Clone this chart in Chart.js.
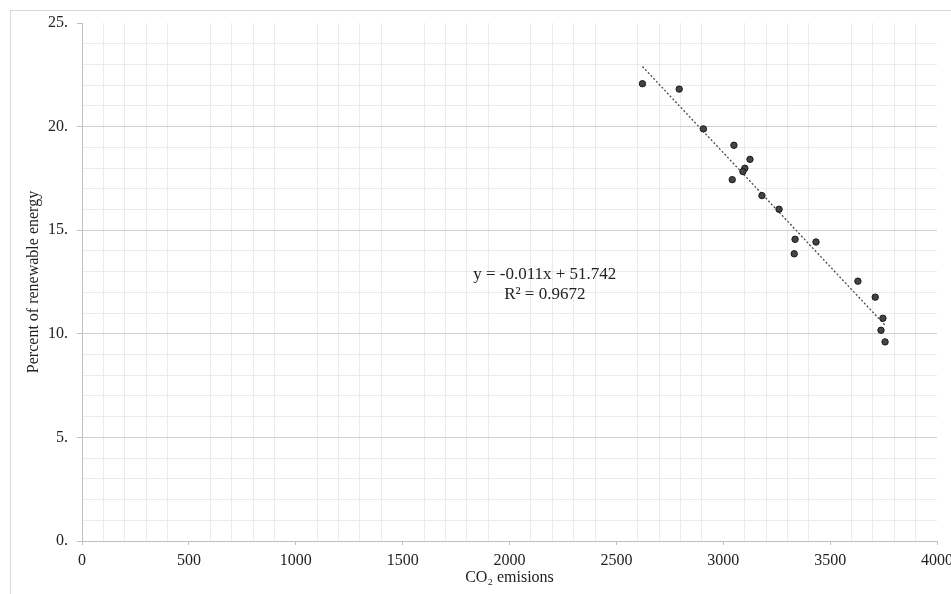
<!DOCTYPE html>
<html>
<head>
<meta charset="utf-8">
<script src="https://cdn.jsdelivr.net/npm/chart.js@4"></script>
<style>
  html, body { margin: 0; padding: 0; background: #fff; overflow: hidden; }
  #frame { position: absolute; left: 10px; top: 10px; width: 1000px; height: 700px;
           border-left: 1px solid #d9d9d9; border-top: 1px solid #d9d9d9; }
  #co2Chart { position: absolute; left: 0; top: 0; }
</style>
</head>
<body>
<div id="frame"></div>
<canvas id="co2Chart" width="965" height="594"></canvas>
<script>
// scatter data
const co2 = [2622, 2794, 2907, 3050, 3125, 3101, 3092, 3042, 3181, 3261, 3336, 3332, 3434, 3630, 3711, 3747, 3738, 3757];
const renewable = [22.07, 21.81, 19.89, 19.10, 18.42, 17.99, 17.83, 17.44, 16.67, 16.01, 14.56, 13.86, 14.43, 12.54, 11.77, 10.75, 10.17, 9.61];

// trendline as printed on the chart
const trendSlope = -0.011;
const trendIntercept = 51.742;
const trendLabel = ["y = -0.011x + 51.742", "R\u00b2 = 0.9672"];

const points = co2.map((x, i) => ({ x: x, y: renewable[i] }));
const xMin = Math.min(...co2);
const xMax = Math.max(...co2);
const trend = [
  { x: xMin, y: trendSlope * xMin + trendIntercept },
  { x: xMax, y: trendSlope * xMax + trendIntercept },
];

const serif = "'Liberation Serif', 'Times New Roman', serif";
const textColor = "#222222";

// equation text in the middle of the plot
const equationPlugin = {
  id: "equation",
  afterDatasetsDraw(chart) {
    const c = chart.ctx;
    const px = chart.scales.x.getPixelForValue(2165);
    const py = chart.scales.y.getPixelForValue(12.85);
    c.save();
    c.font = "17px " + serif;
    c.fillStyle = textColor;
    c.textAlign = "center";
    c.textBaseline = "middle";
    c.fillText(trendLabel[0], px, py);
    c.fillText(trendLabel[1], px, py + 20);
    c.restore();
  },
};

const ctx = document.getElementById("co2Chart").getContext("2d");
const co2Chart = new Chart(ctx, {
  type: "scatter",
  data: {
    datasets: [
      {
        label: "Renewable",
        data: points,
        backgroundColor: "#444444",
        borderColor: "#1a1a1a",
        borderWidth: 1,
        pointRadius: 3.2,
      },
      {
        type: "line",
        label: "Trend",
        data: trend,
        borderColor: "#4a4a4a",
        borderWidth: 1.3,
        borderDash: [2, 2],
        pointRadius: 0,
        fill: false,
      },
    ],
  },
  options: {
    responsive: false,
    animation: false,
    layout: { padding: { left: 0, top: 23, right: 28, bottom: 0 } },
    plugins: {
      legend: { display: false },
      tooltip: { enabled: false },
    },
    scales: {
      x: {
        type: "linear",
        min: 0,
        max: 4000,
        afterFit(scale) { scale.height = 53; },
        border: { color: "#bfbfbf", width: 1 },
        grid: {
          color: (c) => (c.tick && c.tick.value % 500 === 0 ? "rgba(0,0,0,0)" : "#ebebeb"),
          tickColor: (c) => (c.tick && c.tick.value % 500 === 0 ? "#bfbfbf" : "rgba(0,0,0,0)"),
          tickLength: 4,
        },
        ticks: {
          stepSize: 100,
          autoSkip: false,
          maxRotation: 0,
          padding: 6,
          color: textColor,
          font: { family: serif, size: 16 },
          callback: (v) => (v % 500 === 0 ? String(v) : ""),
        },
        title: {
          display: true,
          text: "CO\u2082 emisions",
          color: textColor,
          font: { family: serif, size: 16 },
          padding: { top: 0, bottom: 7 },
        },
      },
      y: {
        min: 0,
        max: 25,
        afterFit(scale) { scale.width = 82; },
        border: { color: "#bfbfbf", width: 1 },
        grid: {
          color: (c) => {
            if (!c.tick) return "#ebebeb";
            if (c.tick.value === 25) return "rgba(0,0,0,0)";
            return c.tick.value % 5 === 0 ? "#d2d2d2" : "#ebebeb";
          },
          tickColor: (c) => (c.tick && c.tick.value % 5 === 0 ? "#bfbfbf" : "rgba(0,0,0,0)"),
          tickLength: 5,
        },
        ticks: {
          stepSize: 1,
          autoSkip: false,
          padding: 9,
          color: textColor,
          font: { family: serif, size: 16 },
          callback: (v) => (v % 5 === 0 ? v + "." : ""),
        },
        title: {
          display: true,
          text: "Percent of renewable energy",
          color: textColor,
          font: { family: serif, size: 16 },
          padding: { top: 24, bottom: 0 },
        },
      },
    },
  },
  plugins: [equationPlugin],
});
</script>
</body>
</html>
